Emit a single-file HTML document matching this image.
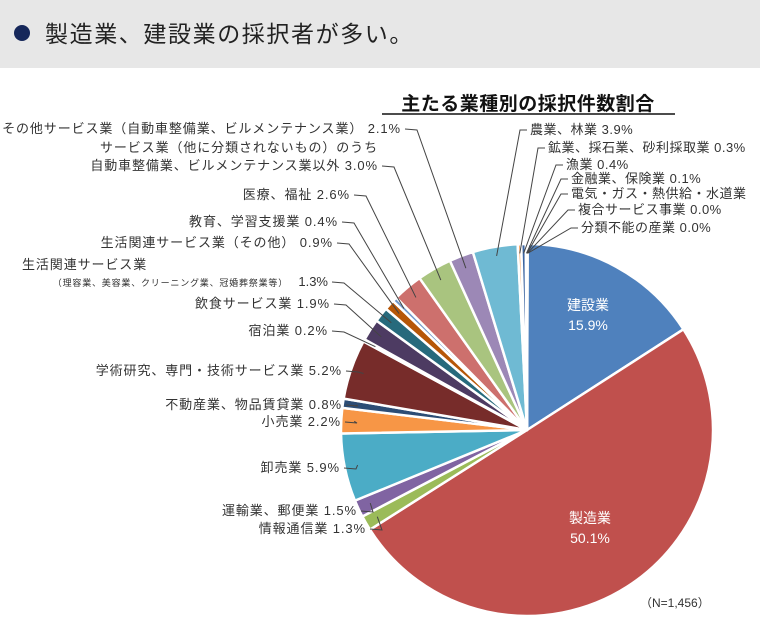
<!DOCTYPE html>
<html><head><meta charset="utf-8"><style>
body{margin:0;background:#fff;width:760px;height:639px;overflow:hidden;font-family:"Liberation Sans","Noto Sans CJK JP",sans-serif}
#hdr{position:absolute;left:0;top:0;width:760px;height:68px;background:#e7e7e7}
#hdr .dot{position:absolute;left:14px;top:25px;width:16px;height:16px;border-radius:50%;background:#16275a}
#hdr .t{position:absolute;left:45px;top:15px;font-size:23px;letter-spacing:1.6px;color:#222}
svg{position:absolute;left:0;top:0}
</style></head><body>
<div id="hdr"><div class="dot"></div><div class="t">製造業、建設業の採択者が多い。</div></div>
<svg id="s" width="760" height="639" font-family="'Liberation Sans','Noto Sans CJK JP',sans-serif"></svg>
<script>
const S=document.getElementById('s');const NS='http://www.w3.org/2000/svg';
function el(t,a,txt){const e=document.createElementNS(NS,t);for(const k in a)e.setAttribute(k,a[k]);if(txt!=null)e.textContent=txt;S.appendChild(e);return e;}
const cx=527,cy=430,R=186;
const d=[[15.9,'#4f81bd'],[50.1,'#c0504d'],[1.3,'#9bbb59'],[1.5,'#8064a2'],[5.9,'#4bacc6'],[2.2,'#f79646'],[0.8,'#2c4d75'],[5.2,'#772c2a'],[0.2,'#5f7530'],[1.9,'#4d3b62'],[1.3,'#276a7c'],[0.9,'#b65708'],[0.4,'#729aca'],[2.6,'#cd706d'],[3.0,'#a9c47f'],[2.1,'#9c88b6'],[3.9,'#6fbad3'],[0.3,'#f9ab6b'],[0.4,'#3b64a0'],[0.1,'#a33b38'],[0.02,'#7e9a3e'],[0.02,'#64507e'],[0.02,'#3a8da2']];
let a=0;const mids=[];
function pt(ang,r){return [cx+r*Math.sin(ang),cy-r*Math.cos(ang)];}
d.forEach(([v,c])=>{const a0=a/100*2*Math.PI;a+=v;const a1=a/100*2*Math.PI;mids.push((a0+a1)/2);
const p0=pt(a0,R),p1=pt(a1,R);const lg=(a1-a0)>Math.PI?1:0;
el('path',{d:`M${cx},${cy}L${p0[0]},${p0[1]}A${R},${R} 0 ${lg} 1 ${p1[0]},${p1[1]}Z`,fill:c,stroke:'#fff','stroke-width':2.5,'stroke-linejoin':'round'});});
el('text',{x:528,y:110,'font-size':19,'font-weight':'bold','text-anchor':'middle',fill:'#111','letter-spacing':0.5},'主たる業種別の採択件数割合');
el('line',{x1:382,y1:114,x2:675,y2:114,stroke:'#111','stroke-width':1.5});
const LS=0.9;
const L=[['その他サービス業（自動車整備業、ビルメンテナンス業） 2.1%',401,133,15],
['自動車整備業、ビルメンテナンス業以外 3.0%',378,170,14],
['医療、福祉 2.6%',350,199,13],['教育、学習支援業 0.4%',338,226,12],['生活関連サービス業（その他） 0.9%',333,247,11],
['',328,286,10],['飲食サービス業 1.9%',330,308,9],['宿泊業 0.2%',328,335,8],
['学術研究、専門・技術サービス業 5.2%',342,375,7],['不動産業、物品賃貸業 0.8%',342,409,6],['小売業 2.2%',341,426,5],
['卸売業 5.9%',340,472,4],['運輸業、郵便業 1.5%',357,515,3],['情報通信業 1.3%',366,533,2]];
L.forEach(([t,x,y,i])=>{
 if(i==10){el('text',{x:x-40,y:y,'font-size':9,'text-anchor':'end',fill:'#333','letter-spacing':0.8},'（理容業、美容業、クリーニング業、冠婚葬祭業等）');el('text',{x:x,y:y,'font-size':13,'text-anchor':'end',fill:'#333'},'1.3%');}
 else el('text',{x:x,y:y,'font-size':13,'text-anchor':'end',fill:'#333','letter-spacing':LS},t);
 const q=pt(mids[i],R*0.93);const ly=y-4;
 el('polyline',{points:`${x+4},${ly} ${x+16},${ly+1} ${q[0]},${q[1]}`,fill:'none',stroke:'#444','stroke-width':1});});
el('text',{x:378,y:152,'font-size':13,'text-anchor':'end',fill:'#333','letter-spacing':LS},'サービス業（他に分類されないもの）のうち');
el('text',{x:22,y:269,'font-size':13,fill:'#333','letter-spacing':LS},'生活関連サービス業');
const Rl=[['農業、林業 3.9%',530,134,16],['鉱業、採石業、砂利採取業 0.3%',548,152,17],['漁業 0.4%',566,169,18],['金融業、保険業 0.1%',571,183,19],['電気・ガス・熱供給・水道業',571,198,20],['複合サービス事業 0.0%',578,214,21],['分類不能の産業 0.0%',581,232,22]];
Rl.forEach(([t,x,y,i])=>{el('text',{x:x,y:y,'font-size':13,fill:'#333','letter-spacing':0.5},t);
 const q=pt(mids[i],R*0.95);el('polyline',{points:`${x-3},${y-4} ${x-10},${y-4} ${q[0]},${q[1]}`,fill:'none',stroke:'#444','stroke-width':1});});
el('text',{x:588,y:310,'font-size':14,'text-anchor':'middle',fill:'#fff'},'建設業');
el('text',{x:588,y:330,'font-size':14,'text-anchor':'middle',fill:'#fff'},'15.9%');
el('text',{x:590,y:523,'font-size':14,'text-anchor':'middle',fill:'#fff'},'製造業');
el('text',{x:590,y:543,'font-size':14,'text-anchor':'middle',fill:'#fff'},'50.1%');
el('text',{x:640,y:607,'font-size':12,fill:'#333'},'（N=1,456）');
</script>
</body></html>
